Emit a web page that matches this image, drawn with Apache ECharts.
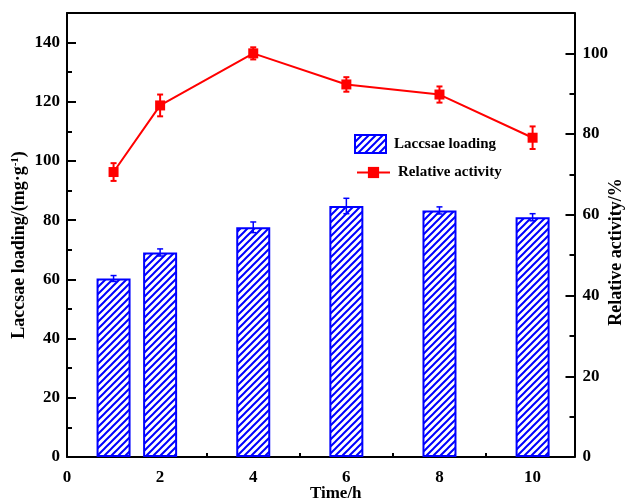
<!DOCTYPE html>
<html><head><meta charset="utf-8">
<script src="https://cdn.jsdelivr.net/npm/echarts@6/dist/echarts.min.js"></script>
<style>html,body{margin:0;padding:0;background:#fff}#c{width:627px;height:503px}</style>
</head><body><div id="c"></div>
<script>
const timeH = [1, 2, 4, 6, 8, 10];
const loading = [60.3, 69.1, 77.6, 84.8, 83.3, 81.0];
const loadingErr = [1.0, 1.2, 1.8, 2.6, 1.2, 1.2];
const activity = [70.6, 87.1, 100.0, 92.3, 89.8, 79.1];
const activityErr = [2.2, 2.7, 1.5, 1.8, 2.0, 2.8];
const xTicks = [0, 2, 4, 6, 8, 10];
const leftTicks = [0, 20, 40, 60, 80, 100, 120, 140];
const rightTicks = [0, 20, 40, 60, 80, 100];

const FONT = 'Liberation Serif';
const BLUE = '#0000ff', RED = '#ff0000';

const cv = document.createElement('canvas');
cv.width = 7; cv.height = 7;
const g = cv.getContext('2d');
g.fillStyle = '#fff'; g.fillRect(0, 0, 7, 7);
g.strokeStyle = BLUE; g.lineWidth = 2;
g.beginPath();
g.moveTo(-1, 8); g.lineTo(8, -1);
g.moveTo(-1, 1); g.lineTo(1, -1);
g.moveTo(6, 8); g.lineTo(8, 6);
g.stroke();
const hatch = { image: cv, repeat: 'repeat' };

const lab = { fontFamily: FONT, fontWeight: 'bold', fontSize: 17, color: '#000' };
const nameStyle = { fontFamily: FONT, fontWeight: 'bold', fontSize: 18, color: '#000' };

function errSeries(vals, errs, yIdx, color, lw, cap) {
  return {
    type: 'custom', yAxisIndex: yIdx, z: 10,
    data: timeH.map((x, i) => [x, vals[i] - errs[i], vals[i] + errs[i]]),
    encode: { x: 0, y: [1, 2] },
    renderItem: function (params, api) {
      const x = api.value(0);
      const a = api.coord([x, api.value(2)]);
      const b = api.coord([x, api.value(1)]);
      const st = { stroke: color, lineWidth: lw };
      return { type: 'group', children: [
        { type: 'line', shape: { x1: a[0], y1: a[1], x2: b[0], y2: b[1] }, style: st },
        { type: 'line', shape: { x1: a[0] - cap, y1: a[1], x2: a[0] + cap, y2: a[1] }, style: st },
        { type: 'line', shape: { x1: b[0] - cap, y1: b[1], x2: b[0] + cap, y2: b[1] }, style: st }
      ]};
    }
  };
}

const axisLine = { show: true, onZero: false, lineStyle: { color: '#000', width: 2 } };
const noLine = { show: false, onZero: false };
const legText = { fontFamily: FONT, fontWeight: 'bold', fontSize: 15, color: '#000', padding: [0, 0, 0, 3] };

const option = {
  animation: false,
  backgroundColor: '#fff',
  grid: { left: 67, right: 52.5, top: 13, bottom: 46, containLabel: false, outerBoundsMode: 'none' },
  legend: [
    { data: [{ name: 'Laccsae loading', icon: 'rect' }], left: 354, top: 134, padding: 0,
      itemWidth: 31, itemHeight: 18, textStyle: legText },
    { data: ['Relative activity'], left: 356, top: 165, padding: 0,
      itemWidth: 33, itemHeight: 14, textStyle: legText }
  ],
  xAxis: [
    { type: 'value', position: 'bottom', min: 0, max: 10.9, interval: 2,
      axisLine: axisLine, splitLine: { show: false },
      axisTick: { show: true, inside: true, length: 7, lineStyle: { color: '#000', width: 2 } },
      axisLabel: Object.assign({ margin: 12, showMaxLabel: false,
        formatter: v => xTicks.includes(v) ? String(v) : '' }, lab),
      name: 'Time/h', nameLocation: 'middle', nameGap: 28, nameMoveOverlap: false,
      nameTextStyle: Object.assign({ padding: [0, 0, 0, 30] }, nameStyle, { fontSize: 17 }) },
    { type: 'value', position: 'bottom', min: 0, max: 10.9, interval: 1,
      axisLine: noLine, splitLine: { show: false }, axisLabel: { show: false },
      axisTick: { show: true, inside: true, length: 4, lineStyle: { color: '#000', width: 2 } } },
    { type: 'value', position: 'top', min: 0, max: 10.9,
      axisLine: axisLine, axisTick: { show: false }, axisLabel: { show: false }, splitLine: { show: false } }
  ],
  yAxis: [
    { type: 'value', position: 'left', min: 0, max: 150, interval: 20,
      axisLine: axisLine, splitLine: { show: false },
      axisTick: { show: true, inside: true, length: 9, lineStyle: { color: '#000', width: 2 } },
      axisLabel: Object.assign({ margin: 7, showMaxLabel: false,
        formatter: v => leftTicks.includes(v) ? String(v) : '' }, lab),
      name: '{a|Laccsae loading/(mg·g}{s|-1}{a|)}', nameLocation: 'middle', nameGap: 38, nameRotate: 90,
      nameMoveOverlap: false,
      nameTextStyle: { padding: [0, 20, 0, 0], rich: {
        a: nameStyle,
        s: { fontFamily: FONT, fontWeight: 'bold', fontSize: 11, color: '#000', verticalAlign: 'top', padding: [0, 0, 8, 0] } } } },
    { type: 'value', position: 'right', min: 0, max: 110, interval: 20,
      axisLine: axisLine, splitLine: { show: false },
      axisTick: { show: true, inside: true, length: 9, lineStyle: { color: '#000', width: 2 } },
      axisLabel: Object.assign({ margin: 8, showMaxLabel: false,
        formatter: v => rightTicks.includes(v) ? String(v) : '' }, lab),
      name: 'Relative activity/%', nameLocation: 'middle', nameGap: 33, nameRotate: 90,
      nameMoveOverlap: false,
      nameTextStyle: Object.assign({ padding: [0, 34, 0, 0] }, nameStyle) },
    { type: 'value', position: 'left', min: 0, max: 150, interval: 10,
      axisLine: noLine, splitLine: { show: false }, axisLabel: { show: false },
      axisTick: { show: true, inside: true, length: 5, lineStyle: { color: '#000', width: 2 } } },
    { type: 'value', position: 'right', min: 0, max: 110, interval: 10,
      axisLine: noLine, splitLine: { show: false }, axisLabel: { show: false },
      axisTick: { show: true, inside: true, length: 5, lineStyle: { color: '#000', width: 2 } } }
  ],
  series: [
    { name: 'Laccsae loading', type: 'bar', xAxisIndex: 0, yAxisIndex: 0, barWidth: 34,
      data: timeH.map((x, i) => [x, loading[i]]),
      itemStyle: { color: hatch, borderColor: BLUE, borderWidth: 2, borderRadius: 0 } },
    errSeries(loading, loadingErr, 0, BLUE, 1.5, 3),
    { name: 'Relative activity', type: 'line', xAxisIndex: 0, yAxisIndex: 1, z: 5,
      data: timeH.map((x, i) => [x, activity[i]]),
      symbol: 'rect', symbolSize: 10,
      lineStyle: { color: RED, width: 2 }, itemStyle: { color: RED } },
    errSeries(activity, activityErr, 1, RED, 2, 3)
  ]
};
echarts.init(document.getElementById('c')).setOption(option);
</script></body></html>
